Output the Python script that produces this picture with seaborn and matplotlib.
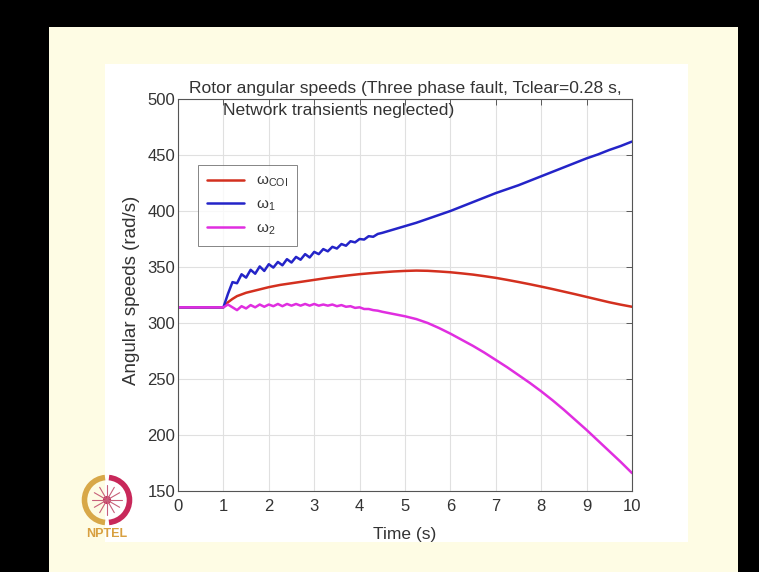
import matplotlib
matplotlib.use("Agg")
import matplotlib.pyplot as plt
from matplotlib.patches import Rectangle, Arc, Circle
import numpy as np
import pandas as pd
import seaborn as sns

# ---- data: rotor angular speeds (rad/s) versus time (s) ----
t_coi = [0.0, 1.0, 1.1, 1.2, 1.3, 1.4, 1.5, 1.75, 2.0, 2.25, 2.5, 2.75, 3.0,
         3.25, 3.5, 3.75, 4.0, 4.25, 4.5, 4.75, 5.0, 5.25, 5.5, 5.75, 6.0,
         6.25, 6.5, 6.75, 7.0, 7.25, 7.5, 7.75, 8.0, 8.25, 8.5, 8.75, 9.0,
         9.25, 9.5, 9.75, 10.0]
w_coi = [314, 314, 318.5, 321.5, 324, 325.5, 327, 329.5, 332, 334, 335.5, 337, 338.5,
         340, 341.3, 342.5, 343.6, 344.5, 345.3, 346, 346.5, 346.8, 346.6, 346, 345.3,
         344.3, 343.2, 341.8, 340.3, 338.5, 336.6, 334.6, 332.5, 330.3, 328, 325.7, 323.3,
         320.9, 318.5, 316.4, 314.5]

t_osc = [0.0, 1.0, 1.1, 1.2, 1.3, 1.4, 1.5, 1.6, 1.7, 1.8, 1.9, 2.0,
         2.1, 2.2, 2.3, 2.4, 2.5, 2.6, 2.7, 2.8, 2.9, 3.0,
         3.1, 3.2, 3.3, 3.4, 3.5, 3.6, 3.7, 3.8, 3.9, 4.0,
         4.1, 4.2, 4.3, 4.4, 4.5, 4.75, 5.0, 5.25, 5.5, 5.75, 6.0,
         6.25, 6.5, 6.75, 7.0, 7.25, 7.5, 7.75, 8.0, 8.25, 8.5, 8.75,
         9.0, 9.25, 9.5, 9.75, 10.0]
w_1 = [314, 314, 326, 336.5, 335.5, 343.5, 340.5, 347.5, 344, 350.5, 346.5, 352.5,
       349.5, 354.5, 351.5, 357, 354, 359, 356.5, 361.5, 358.5, 363.5,
       361.5, 366, 364, 368, 366.5, 370.5, 369, 373, 372, 375,
       374.5, 377.5, 377, 379.5, 380.5, 383.5, 386.5, 389.5, 393, 396.5, 400,
       404, 408, 412, 416, 419.5, 423, 427, 431, 435, 439, 443,
       447, 450.5, 454.5, 458, 462]
w_2 = [314, 314, 316.5, 314, 311.5, 315, 313, 316, 314, 316.5, 314.5, 316.5,
       315, 317, 315, 317, 315.5, 317, 315.5, 317, 315.5, 317,
       315.5, 316.5, 315.5, 316.5, 315, 316, 314.5, 315, 313.5, 314,
       312.5, 312.5, 311.5, 311, 310, 308, 306, 303.5, 300, 295.5, 290.5,
       285, 279.5, 273.5, 267, 260.5, 253.5, 246.5, 239, 231, 222.5, 213.5,
       204.5, 195, 185.5, 176, 166]

series_names = ["coi", "w1", "w2"]
legend_labels = [r"ω$_{\rm COI}$", r"ω$_{\rm 1}$", r"ω$_{\rm 2}$"]
colors = {"coi": "#d3301f", "w1": "#2424c8", "w2": "#e02ee0"}

df = pd.concat([
    pd.DataFrame({"t": t_coi, "w": w_coi, "s": "coi"}),
    pd.DataFrame({"t": t_osc, "w": w_1, "s": "w1"}),
    pd.DataFrame({"t": t_osc, "w": w_2, "s": "w2"}),
], ignore_index=True)

x_ticks = [0, 1, 2, 3, 4, 5, 6, 7, 8, 9, 10]
y_ticks = [150, 200, 250, 300, 350, 400, 450, 500]

sns.set_theme(style="white")
plt.rcParams["font.family"] = ["Liberation Sans", "DejaVu Sans"]
plt.rcParams["mathtext.fontset"] = "custom"
plt.rcParams["mathtext.rm"] = "Liberation Sans"
plt.rcParams["mathtext.it"] = "Liberation Sans:italic"

W, H = 759, 572
fig = plt.figure(figsize=(W / 100, H / 100), dpi=100, facecolor="black")

def fx(px):
    return px / W

def fy(py):
    return 1 - py / H

# slide background and white figure panel
fig.patches.append(Rectangle((fx(49), 0), fx(738) - fx(49), fy(27),
                             transform=fig.transFigure, facecolor="#fefce4",
                             edgecolor="none", zorder=-3))
fig.patches.append(Rectangle((fx(105), fy(542)), fx(688) - fx(105), fy(64) - fy(542),
                             transform=fig.transFigure, facecolor="#ffffff",
                             edgecolor="none", zorder=-2))

ax = fig.add_axes([fx(178), fy(491), fx(632) - fx(178), fy(99) - fy(491)])
ax.set_facecolor("white")

sns.lineplot(data=df, x="t", y="w", hue="s", hue_order=series_names,
             palette=colors, linewidth=1.8, legend=False, errorbar=None,
             estimator=None, sort=False, ax=ax)

ax.set_xlim(0, 10)
ax.set_ylim(150, 500)
ax.set_xticks(x_ticks)
ax.set_yticks(y_ticks)
ax.set_xticklabels([str(v) for v in x_ticks])
ax.set_yticklabels([str(v) for v in y_ticks])
ax.set_xlabel("")
ax.set_ylabel("")
ax.grid(True, color="#e0e0e0", linewidth=0.8)
ax.set_axisbelow(True)
ax.tick_params(axis="both", direction="in", length=4, width=0.6,
               colors="#444444", labelcolor="#333333", labelsize=12,
               top=True, right=True)
ax.tick_params(axis="x", pad=6)
ax.tick_params(axis="y", pad=2)
for sp in ax.spines.values():
    sp.set_visible(True)
    sp.set_color("#555555")
    sp.set_linewidth(0.8)

handles = ax.get_lines()[:3]
leg = ax.legend(handles, legend_labels, loc="upper left",
                bbox_to_anchor=(0.044, 0.832), borderaxespad=0,
                frameon=True, fancybox=False, fontsize=11,
                handlelength=2.4, handletextpad=0.8, labelspacing=0.55,
                borderpad=0.6)
leg.get_frame().set_edgecolor("#666666")
leg.get_frame().set_linewidth(0.7)
for txt in leg.get_texts():
    txt.set_color("#333333")

# title (two lines) and axis labels
fig.text(fx(405), fy(88), "Rotor angular speeds (Three phase fault, Tclear=0.28 s,",
         ha="center", va="center", fontsize=12.6, color="#333333")
fig.text(fx(223), fy(110), "Network transients neglected)",
         ha="left", va="center", fontsize=12.6, color="#333333")
fig.text(fx(405), fy(535), "Time (s)", ha="center", va="center",
         fontsize=12.5, color="#333333")
fig.text(fx(131), fy(290), "Angular speeds (rad/s)", ha="center", va="center",
         rotation=90, fontsize=13.5, color="#333333")

# NPTEL emblem in the lower left corner
logo_ax = fig.add_axes([fx(80), fy(528), fx(134) - fx(80), fy(472) - fy(528)])
logo_ax.set_xlim(-1.2, 1.2)
logo_ax.set_ylim(-1.2, 1.2)
logo_ax.set_aspect("equal")
logo_ax.axis("off")
logo_ax.add_patch(Arc((0, 0), 2.0, 2.0, theta1=95, theta2=265,
                      color="#d8a848", linewidth=4))
logo_ax.add_patch(Arc((0, 0), 2.0, 2.0, theta1=-85, theta2=85,
                      color="#c8285a", linewidth=4))
for ang in range(0, 360, 30):
    a = np.deg2rad(ang)
    logo_ax.plot([0, 0.65 * np.cos(a)], [0, 0.65 * np.sin(a)],
                 color="#c8607a", linewidth=0.8)
logo_ax.add_patch(Circle((0, 0), 0.15, color="#c83060"))
fig.text(fx(107), fy(534), "NPTEL", ha="center", va="center",
         fontsize=9, fontweight="bold", color="#d8a040")

fig.savefig("out.png", dpi=100, facecolor=fig.get_facecolor())
